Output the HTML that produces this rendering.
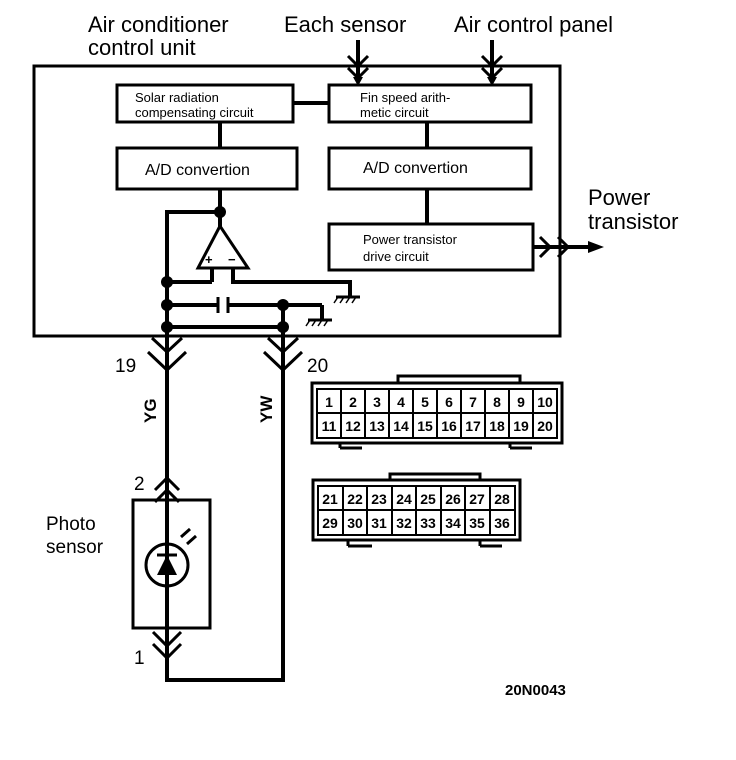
<!DOCTYPE html>
<html><head><meta charset="utf-8"><style>
html,body{margin:0;padding:0;background:#fff;}
svg{display:block;}
text{font-family:"Liberation Sans",sans-serif;fill:#000;}
</style></head><body>
<svg width="736" height="760" viewBox="0 0 736 760" xmlns="http://www.w3.org/2000/svg">
<g font-size="22">
<text x="88" y="32">Air conditioner</text>
<text x="88" y="55">control unit</text>
<text x="284" y="32">Each sensor</text>
<text x="454" y="32">Air control panel</text>
<text x="588" y="205">Power</text>
<text x="588" y="229">transistor</text>
</g>
<g fill="none" stroke="#000" stroke-width="3">
<rect x="34" y="66" width="526" height="270"/>
<rect x="117" y="85" width="176" height="37"/>
<rect x="329" y="85" width="202" height="37"/>
<rect x="117" y="148" width="180" height="41"/>
<rect x="329" y="148" width="202" height="41"/>
<rect x="329" y="224" width="204" height="46"/>
</g>
<g font-size="13">
<text x="135" y="102">Solar radiation</text>
<text x="135" y="117">compensating circuit</text>
<text x="360" y="102">Fin speed arith-</text>
<text x="360" y="117">metic circuit</text>
<text x="363" y="244">Power transistor</text>
<text x="363" y="261">drive circuit</text>
</g>
<g font-size="16">
<text x="145" y="175">A/D convertion</text>
<text x="363" y="173">A/D convertion</text>
</g>
<g stroke="#000" stroke-width="4" fill="none">
<line x1="358" y1="40" x2="358" y2="80"/>
<line x1="492" y1="40" x2="492" y2="80"/>
<polyline points="348,56 358,66 368,56" stroke-width="3"/>
<polyline points="348,68 358,78 368,68" stroke-width="3"/>
<polyline points="482,56 492,66 502,56" stroke-width="3"/>
<polyline points="482,68 492,78 502,68" stroke-width="3"/>
<line x1="293" y1="103" x2="329" y2="103"/>
<line x1="220" y1="122" x2="220" y2="148"/>
<line x1="427" y1="122" x2="427" y2="148"/>
<line x1="427" y1="189" x2="427" y2="224"/>
<line x1="220" y1="189" x2="220" y2="228"/>
<line x1="533" y1="247" x2="590" y2="247"/>
<polyline points="540,237 550,247 540,257" stroke-width="3"/>
<polyline points="558,237 568,247 558,257" stroke-width="3"/>
<polygon points="220,226 198,268 248,268" stroke-width="3"/>
<polyline points="220,212 167,212 167,680 283,680 283,305"/>
<line x1="212" y1="268" x2="212" y2="282"/>
<line x1="167" y1="282" x2="212" y2="282"/>
<polyline points="233,268 233,282 350,282 350,297"/>
<line x1="167" y1="305" x2="218" y2="305"/>
<line x1="228" y1="305" x2="322" y2="305"/>
<line x1="322" y1="305" x2="322" y2="320"/>
<line x1="218" y1="297" x2="218" y2="313" stroke-width="3"/>
<line x1="228" y1="297" x2="228" y2="313" stroke-width="3"/>
<line x1="167" y1="327" x2="283" y2="327"/>
<line x1="336" y1="297" x2="360" y2="297" stroke-width="3"/>
<line x1="308" y1="320" x2="332" y2="320" stroke-width="3"/>
<polyline points="152,338 167,352 182,338" stroke-width="3"/>
<polyline points="148,352 167,370 186,352" stroke-width="3"/>
<polyline points="268,338 283,352 298,338" stroke-width="3"/>
<polyline points="264,352 283,370 302,352" stroke-width="3"/>
<rect x="133" y="500" width="77" height="128" stroke-width="3" fill="#fff"/>
<line x1="167" y1="470" x2="167" y2="680"/>
<polyline points="155,490 167,478 179,490" stroke-width="3"/>
<polyline points="155,502 167,490 179,502" stroke-width="3"/>
<polyline points="153,632 167,646 181,632" stroke-width="3"/>
<polyline points="153,644 167,658 181,644" stroke-width="3"/>
<circle cx="167" cy="565" r="21" stroke-width="3"/>
<line x1="157" y1="555" x2="177" y2="555" stroke-width="3"/>
<line x1="181" y1="537" x2="190" y2="529" stroke-width="3"/>
<line x1="187" y1="544" x2="196" y2="536" stroke-width="3"/>
</g>
<polygon points="167,555 157,575 177,575" fill="#000"/>
<polygon points="604,247 588,241 588,253" fill="#000"/>
<polygon points="358,86 353,77 363,77" fill="#000"/>
<polygon points="492,86 487,77 497,77" fill="#000"/>
<g fill="#000">
<circle cx="220" cy="212" r="6"/>
<circle cx="167" cy="282" r="6"/>
<circle cx="167" cy="305" r="6"/>
<circle cx="167" cy="327" r="6"/>
<circle cx="283" cy="305" r="6"/>
<circle cx="283" cy="327" r="6"/>
</g>
<g stroke="#000" stroke-width="1.5">
<line x1="338" y1="297" x2="334" y2="303"/><line x1="344" y1="297" x2="340" y2="303"/><line x1="350" y1="297" x2="346" y2="303"/><line x1="356" y1="297" x2="352" y2="303"/>
<line x1="310" y1="320" x2="306" y2="326"/><line x1="316" y1="320" x2="312" y2="326"/><line x1="322" y1="320" x2="318" y2="326"/><line x1="328" y1="320" x2="324" y2="326"/>
</g>
<text x="205" y="264" font-size="13" font-weight="bold">+</text>
<text x="228" y="264" font-size="13" font-weight="bold">−</text>
<g font-size="19">
<text x="115" y="372">19</text>
<text x="307" y="372">20</text>
<text x="134" y="490">2</text>
<text x="134" y="664">1</text>
<text x="46" y="530">Photo</text>
<text x="46" y="553">sensor</text>
</g>
<text font-size="17" font-weight="bold" transform="translate(156,423) rotate(-90)">YG</text>
<text font-size="17" font-weight="bold" transform="translate(272,423) rotate(-90)">YW</text>
<text x="505" y="695" font-size="15" font-weight="bold">20N0043</text>
<g stroke="#000" fill="none" stroke-width="3">
<polyline points="398,383 398,376 520,376 520,383"/>
<rect x="312" y="383" width="250" height="60"/>
<rect x="317" y="389" width="240" height="49" stroke-width="2"/>
<line x1="317" y1="413" x2="557" y2="413" stroke-width="2"/>
<line x1="340" y1="443" x2="340" y2="448"/><line x1="340" y1="448" x2="362" y2="448"/>
<line x1="510" y1="443" x2="510" y2="448"/><line x1="510" y1="448" x2="532" y2="448"/>
<polyline points="390,480 390,474 480,474 480,480"/>
<rect x="313" y="480" width="207" height="60"/>
<rect x="318" y="486" width="197" height="49" stroke-width="2"/>
<line x1="318" y1="510" x2="515" y2="510" stroke-width="2"/>
<line x1="348" y1="540" x2="348" y2="546"/><line x1="348" y1="546" x2="372" y2="546"/>
<line x1="480" y1="540" x2="480" y2="546"/><line x1="480" y1="546" x2="502" y2="546"/>
</g>
<g stroke="#000" stroke-width="2">
<line x1="341" y1="389" x2="341" y2="438"/><line x1="365" y1="389" x2="365" y2="438"/><line x1="389" y1="389" x2="389" y2="438"/><line x1="413" y1="389" x2="413" y2="438"/><line x1="437" y1="389" x2="437" y2="438"/><line x1="461" y1="389" x2="461" y2="438"/><line x1="485" y1="389" x2="485" y2="438"/><line x1="509" y1="389" x2="509" y2="438"/><line x1="533" y1="389" x2="533" y2="438"/>
<line x1="343" y1="486" x2="343" y2="535"/><line x1="367" y1="486" x2="367" y2="535"/><line x1="392" y1="486" x2="392" y2="535"/><line x1="416" y1="486" x2="416" y2="535"/><line x1="441" y1="486" x2="441" y2="535"/><line x1="465" y1="486" x2="465" y2="535"/><line x1="490" y1="486" x2="490" y2="535"/>
</g>
<g font-size="14" font-weight="bold" text-anchor="middle">
<text x="329" y="407">1</text><text x="353" y="407">2</text><text x="377" y="407">3</text><text x="401" y="407">4</text><text x="425" y="407">5</text><text x="449" y="407">6</text><text x="473" y="407">7</text><text x="497" y="407">8</text><text x="521" y="407">9</text><text x="545" y="407">10</text>
<text x="329" y="431">11</text><text x="353" y="431">12</text><text x="377" y="431">13</text><text x="401" y="431">14</text><text x="425" y="431">15</text><text x="449" y="431">16</text><text x="473" y="431">17</text><text x="497" y="431">18</text><text x="521" y="431">19</text><text x="545" y="431">20</text>
<text x="330" y="504">21</text><text x="355" y="504">22</text><text x="379" y="504">23</text><text x="404" y="504">24</text><text x="428" y="504">25</text><text x="453" y="504">26</text><text x="477" y="504">27</text><text x="502" y="504">28</text>
<text x="330" y="528">29</text><text x="355" y="528">30</text><text x="379" y="528">31</text><text x="404" y="528">32</text><text x="428" y="528">33</text><text x="453" y="528">34</text><text x="477" y="528">35</text><text x="502" y="528">36</text>
</g>
</svg>
</body></html>
